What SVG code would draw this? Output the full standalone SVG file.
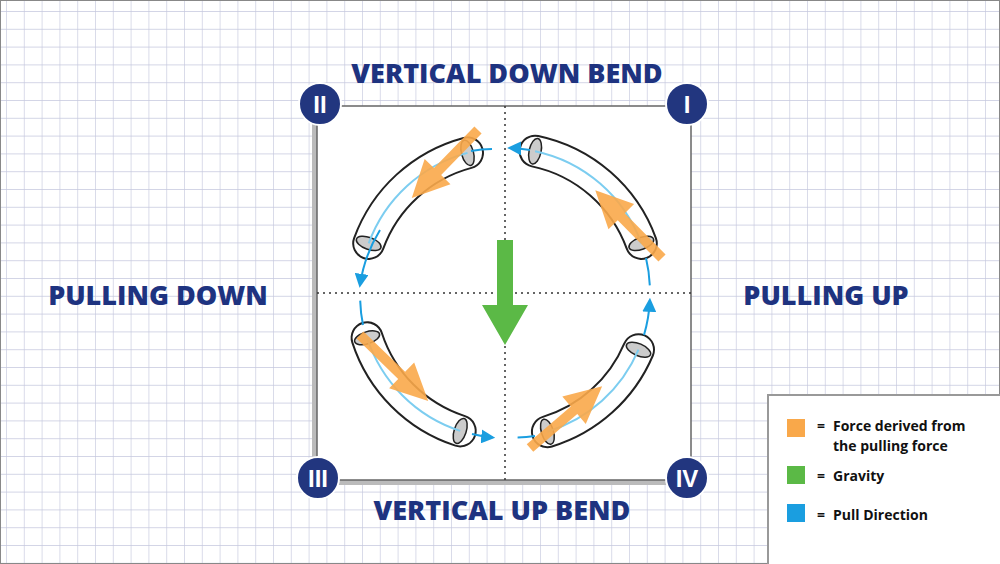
<svg xmlns="http://www.w3.org/2000/svg" width="1000" height="564" viewBox="0 0 1000 564">
<style>
.lbl{font-family:"Open Sans","Liberation Sans",sans-serif;font-weight:800;fill:#1e3380;font-size:27px;text-anchor:middle}
.num{font-family:"Liberation Sans",sans-serif;font-weight:700;fill:#fff;font-size:24px;text-anchor:middle}
.lg{font-family:"Open Sans","Liberation Sans",sans-serif;font-weight:700;fill:#111;font-size:14px}
.pipeO{fill:none;stroke:#222;stroke-width:33;stroke-linecap:round}
.pipeI{fill:none;stroke:#fff;stroke-width:29;stroke-linecap:round}
.inner{fill:none;stroke:#7ccdf0;stroke-width:2}
.pull{fill:none;stroke:#1a9ee0;stroke-width:2}
.end{fill:#ccc;stroke:#222;stroke-width:1.5}
.dot{stroke:#333;stroke-width:1.5;stroke-dasharray:2 4}
</style>
<defs>
<pattern id="grid" x="6" y="11" width="17.8" height="17.8" patternUnits="userSpaceOnUse">
<path d="M0,0 H17.8 M0,0 V17.8" stroke="#c5c8de" stroke-width="1.3" fill="none"/>
</pattern>
<marker id="ahb" viewBox="0 0 10 10" refX="8" refY="5" markerWidth="14" markerHeight="14" orient="auto" markerUnits="userSpaceOnUse"><path d="M0,0 L10,5 L0,10Z" fill="#1a9ee0"/></marker>
<path id="oa" d="M0,-5 H58 V-18 L95,0 L58,18 V5 H0Z" fill="#f9a84a" fill-opacity="0.9"/>
</defs>
<rect width="1000" height="564" fill="#fff"/>
<rect width="1000" height="564" fill="url(#grid)"/>
<rect x="0.5" y="0.5" width="999" height="563" fill="none" stroke="#888"/>

<g id="square">
<rect x="312" y="111" width="379" height="374" fill="#bbb"/>
<rect x="317" y="106" width="374" height="374" fill="#fff" stroke="#666" stroke-width="1.5"/>
<line class="dot" x1="505" y1="106" x2="505" y2="480"/>
<line class="dot" x1="317" y1="293" x2="691" y2="293"/>
</g>

<g id="pipe-II">
<path class="pipeO" d="M467.5,152.9 A145,145 0 0 0 368.7,243.4"/>
<path class="pipeI" d="M467.5,152.9 A145,145 0 0 0 368.7,243.4"/>
<ellipse class="end" cx="467.5" cy="152.9" rx="13" ry="6" transform="rotate(-105 467.5 152.9)"/>
<ellipse class="end" cx="368.7" cy="243.4" rx="13" ry="6" transform="rotate(-160 368.7 243.4)"/>
</g>
<g id="pipe-I">
<path class="pipeO" d="M535.1,151.2 A145,145 0 0 1 641.3,243.4"/>
<path class="pipeI" d="M535.1,151.2 A145,145 0 0 1 641.3,243.4"/>
<ellipse class="end" cx="535.1" cy="151.2" rx="13" ry="6" transform="rotate(-78 535.1 151.2)"/>
<ellipse class="end" cx="641.3" cy="243.4" rx="13" ry="6" transform="rotate(-20 641.3 243.4)"/>
</g>
<g id="pipe-III">
<path class="pipeO" d="M367.1,337.8 A145,145 0 0 0 460.2,430.9"/>
<path class="pipeI" d="M367.1,337.8 A145,145 0 0 0 460.2,430.9"/>
<ellipse class="end" cx="367.1" cy="337.8" rx="13" ry="6" transform="rotate(-198 367.1 337.8)"/>
<ellipse class="end" cx="460.2" cy="430.9" rx="13" ry="6" transform="rotate(-252 460.2 430.9)"/>
</g>
<g id="pipe-IV">
<path class="pipeO" d="M547.4,431.7 A145,145 0 0 0 638.5,349.7"/>
<path class="pipeI" d="M547.4,431.7 A145,145 0 0 0 638.5,349.7"/>
<ellipse class="end" cx="547.4" cy="431.7" rx="13" ry="6" transform="rotate(-287 547.4 431.7)"/>
<ellipse class="end" cx="638.5" cy="349.7" rx="13" ry="6" transform="rotate(-337 638.5 349.7)"/>
</g>

<g id="connectors">
<path class="inner" d="M467.5,152.9 A145,145 0 0 0 368.7,243.4"/>
<path class="inner" d="M535.1,151.2 A145,145 0 0 1 641.3,243.4"/>
<path class="inner" d="M367.1,337.8 A145,145 0 0 0 460.2,430.9"/>
<path class="inner" d="M547.4,431.7 A145,145 0 0 0 638.5,349.7"/>
<path class="pull" marker-end="url(#ahb)" d="M492,149 A145,145 0 0 0 471,151 M380,230 A145,145 0 0 0 360,285"/>
<path class="pull" marker-end="url(#ahb)" d="M649.8,285.4 A145,145 0 0 0 646,258 M530,150 A145,145 0 0 0 510,148"/>
<path class="pull" marker-end="url(#ahb)" d="M360.2,300.6 A145,145 0 0 0 363,325 M472,434 A145,145 0 0 0 492.4,437.4"/>
<path class="pull" marker-end="url(#ahb)" d="M517.6,437.4 A145,145 0 0 0 535,436 M644,335 A145,145 0 0 0 649.8,300.6"/>
</g>

<g id="forces">
<use href="#oa" transform="translate(478,130) rotate(134.2)"/>
<use href="#oa" transform="translate(360,335) rotate(44.1)"/>
<use href="#oa" transform="translate(662,258) rotate(225.4)"/>
<use href="#oa" transform="translate(530,448) rotate(-40.6)"/>
</g>
<g id="gravity">
<path d="M497,240 H513 V305 H528 L505,345 L482,305 H497Z" fill="#5bb946"/>
</g>

<g id="badge-II"><circle cx="320" cy="104" r="21" fill="#22367f" stroke="#fff" stroke-width="2"/><text class="num" x="320" y="113">II</text></g>
<g id="badge-I"><circle cx="687" cy="104" r="21" fill="#22367f" stroke="#fff" stroke-width="2"/><text class="num" x="687" y="113">I</text></g>
<g id="badge-III"><circle cx="318" cy="478" r="21" fill="#22367f" stroke="#fff" stroke-width="2"/><text class="num" x="318" y="487">III</text></g>
<g id="badge-IV"><circle cx="687" cy="478" r="21" fill="#22367f" stroke="#fff" stroke-width="2"/><text class="num" x="687" y="487">IV</text></g>

<text class="lbl" x="507" y="83">VERTICAL DOWN BEND</text>
<text class="lbl" x="158" y="305">PULLING DOWN</text>
<text class="lbl" x="826" y="305">PULLING UP</text>
<text class="lbl" x="502" y="520">VERTICAL UP BEND</text>

<g id="legend">
<rect x="768" y="395" width="240" height="175" fill="#fff" stroke="#999" stroke-width="2"/>
<rect x="787" y="419" width="18" height="18" fill="#f9a84a"/>
<rect x="787" y="466" width="18" height="18" fill="#5bb946"/>
<rect x="787" y="504" width="18" height="18" fill="#1a9ee0"/>
<text class="lg" x="817" y="431">=</text><text class="lg" x="833" y="431">Force derived from</text>
<text class="lg" x="833" y="451">the pulling force</text>
<text class="lg" x="817" y="481">=</text><text class="lg" x="833" y="481">Gravity</text>
<text class="lg" x="817" y="520">=</text><text class="lg" x="833" y="520">Pull Direction</text>
</g>
</svg>
